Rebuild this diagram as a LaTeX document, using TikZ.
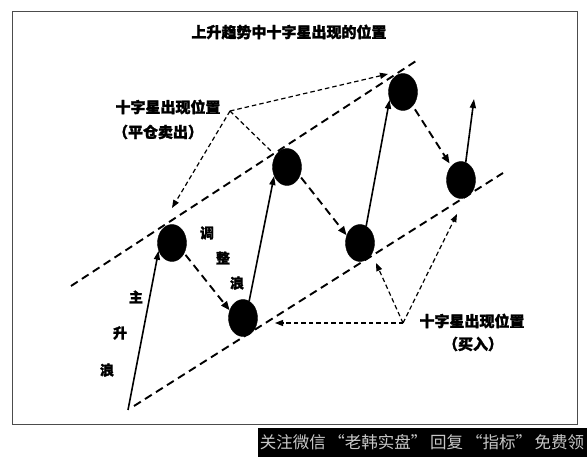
\documentclass[tikz,border=0pt]{standalone}
\usepackage{fontspec}
\newfontfamily\cjk{Noto Sans CJK SC}[BoldFeatures={FakeBold=1.5}]
\usetikzlibrary{shapes.geometric,arrows.meta}
\tikzset{
  dot/.style={ellipse,fill=black,draw=black,minimum width=29pt,minimum height=37pt,inner sep=0pt},
  chan/.style={line width=1.9pt,dash pattern=on 8pt off 5pt},
  rise/.style={line width=1.6pt,-{Triangle[length=9pt,width=6pt]}},
  fall/.style={line width=1.9pt,dash pattern=on 8pt off 5pt,-{Triangle[length=9pt,width=7pt]}},
  note/.style={line width=1.2pt,dash pattern=on 4.5pt off 3pt,-{Triangle[length=8pt,width=6pt]}},
  notenotip/.style={line width=1.2pt,dash pattern=on 4.5pt off 3pt},
  lbl/.style={font=\cjk\bfseries\fontsize{15}{17}\selectfont,inner sep=0pt},
  wlbl/.style={font=\cjk\bfseries\fontsize{14}{16}\selectfont,inner sep=0pt},
}
\begin{document}
\begin{tikzpicture}[x=1pt,y=-1pt]
\useasboundingbox (0,0) rectangle (587,457);
\fill[white] (0,0) rectangle (587,457);
\draw[line width=1pt,black!70] (12,12) rectangle (577,424);
\fill[black] (258,428) rectangle (587,457);
\node[font=\cjk\fontsize{16.5}{18}\selectfont,text=black!22,anchor=center,inner sep=0pt] (band) at (422,442) {关注微信\,“老韩实盘”\,回复\,“指标”\,免费领};

\node[lbl] (title) at (289,32) {上升趋势中十字星出现的位置};

% dots
\node[dot] (C1) at (172,243) {};
\node[dot] (C2) at (243,318) {};
\node[dot] (C3) at (287,167) {};
\node[dot] (C4) at (360,243) {};
\node[dot] (C5) at (403,92) {};
\node[dot] (C6) at (461,180) {};

% channel lines
\coordinate (u1) at (71,286);
\coordinate (u2) at (416,61);
\coordinate (l1) at (128,410);
\coordinate (l1b) at (134,406);
\coordinate (l2) at (503,173);
\draw[chan] (u1) -- (u2);
\draw[chan] (l1b) -- (l2);

% main rises
\coordinate (top) at (474,99);
\draw[rise] (l1) -- (C1.210);
\draw[rise] (C2.70) -- (C3.215);
\draw[rise] (C4.70) -- (C5.210);
\draw[rise] (C6.75) -- (top);

% corrections
\draw[fall,shorten <=2pt] (C1.-40) -- (C2.150);
\draw[fall,shorten <=2pt] (C3.-35) -- (C4.150);
\draw[fall,shorten <=4pt,shorten >=3pt] (C5.-55) -- (C6.125);

% annotations top
\coordinate (P) at (230,111);
\coordinate (p1) at (388,74);
\coordinate (p2) at (172,208);
\coordinate (p3) at (271,151);
\draw[note] (P) -- (p1);
\draw[note] (P) -- (p2);
\draw[notenotip] (P) -- (p3);
\node[lbl] (ltop) at (168,107) {十字星出现位置};
\node[lbl] (ltop2) at (158,132) {（平仓卖出）};

% annotations bottom
\coordinate (Q) at (403,323);
\coordinate (q1) at (275,323);
\coordinate (q2) at (376,263);
\coordinate (q3) at (457,214);
\draw[note] (Q) -- (q1);
\draw[note] (Q) -- (q2);
\draw[note] (Q) -- (q3);
\node[lbl] (lbot) at (472,321) {十字星出现位置};
\node[lbl] (lbot2) at (473,344) {（买入）};

% wave labels
\node[wlbl] (w1) at (207,233) {调};
\node[wlbl] (w2) at (223,258) {整};
\node[wlbl] (w3) at (237,283) {浪};
\node[wlbl] (m1) at (136,297) {主};
\node[wlbl] (m2) at (120,333) {升};
\node[wlbl] (m3) at (107,370) {浪};
\end{tikzpicture}
\end{document}
